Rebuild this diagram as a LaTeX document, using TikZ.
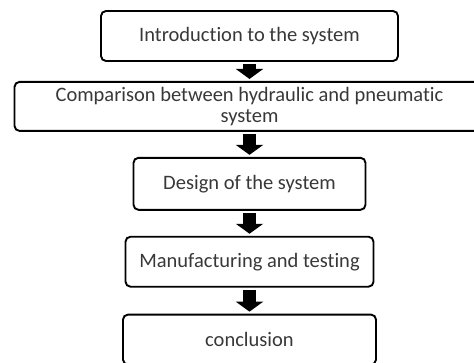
\documentclass[tikz,border=0pt]{standalone}
\usepackage{fontspec}
\setmainfont{Carlito}[Ligatures=NoCommon]
\usetikzlibrary{arrows.meta, positioning}

\begin{document}
\begin{tikzpicture}[x=1pt, y=-1pt,
  stage/.style={rectangle, draw, line width=1.9pt, rounded corners=5pt,
    minimum height=50pt, align=center, inner sep=2pt, text=black!78,
    font=\fontsize{20.5}{21.5}\selectfont},
  flow/.style={line width=13pt, -{Triangle[width=27pt, length=10pt]},
    shorten <=2pt, shorten >=2pt}]
  \useasboundingbox (0,0) rectangle (474,362);

  % stages of the work
  \node[stage, minimum width=297pt] (intro) at (249.5,36) {Introduction to the system};
  \node[stage, minimum width=470pt, minimum height=49pt, below=19pt of intro] (compare)
    {Comparison between hydraulic and pneumatic\\system};
  \node[stage, minimum width=232pt, minimum height=52pt, below=25pt of compare] (design)
    {Design of the system};
  \node[stage, minimum width=248pt, below=25pt of design] (manuf)
    {Manufacturing and testing};
  \node[stage, minimum width=253pt, below=26pt of manuf] (concl)
    {conclusion};

  % block arrows between stages
  \draw[flow] (intro.south) -- (compare.north);
  \draw[flow] (compare.south) -- (design.north);
  \draw[flow] (design.south) -- (manuf.north);
  \draw[flow] (manuf.south) -- (concl.north);
\end{tikzpicture}
\end{document}
